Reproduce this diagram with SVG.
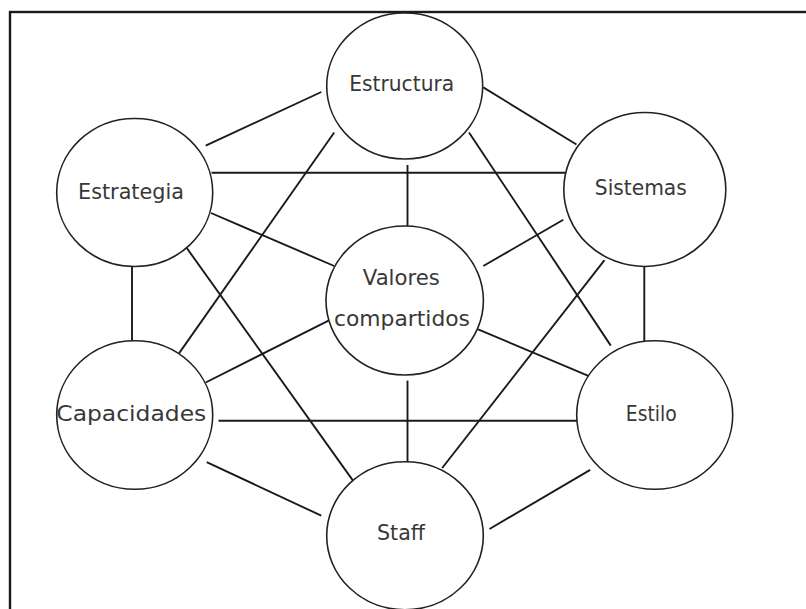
<svg xmlns="http://www.w3.org/2000/svg" width="806" height="609" viewBox="0 0 806 609">
  <style>
    .frame { fill: none; stroke: #1a1a1a; stroke-width: 2.4; }
    .node ellipse { fill: #ffffff; stroke: #222222; stroke-width: 1.6; }
    .node text { font-family: "DejaVu Sans", "Liberation Sans", sans-serif; font-size: 20.5px; fill: #383838; text-anchor: middle; }
    #connectors line { stroke: #1a1a1a; stroke-width: 1.9; }
  </style>

  <rect width="806" height="609" fill="#ffffff"/>
  <!-- outer frame, open past the right and bottom edges -->
  <rect class="frame" x="10" y="12" width="810" height="610"/>

  <g id="connectors">
    <line x1="205.7" y1="145.6" x2="321.3" y2="92"/>
    <line x1="483.3" y1="87.4" x2="576.5" y2="144.5"/>
    <line x1="211.5" y1="172.8" x2="565" y2="172.8"/>
    <line x1="407.5" y1="165" x2="407.5" y2="226"/>
    <line x1="211" y1="213" x2="334.2" y2="266"/>
    <line x1="334.2" y1="132.5" x2="179" y2="353.4"/>
    <line x1="469" y1="132.5" x2="610.8" y2="345.6"/>
    <line x1="563.3" y1="219.8" x2="483.3" y2="266"/>
    <line x1="604.5" y1="260.2" x2="442.2" y2="468"/>
    <line x1="644.3" y1="266.5" x2="644.3" y2="341.5"/>
    <line x1="132" y1="266.5" x2="132" y2="341"/>
    <line x1="186.4" y1="247.5" x2="353.7" y2="481.6"/>
    <line x1="329" y1="320.4" x2="205.7" y2="382.5"/>
    <line x1="478.1" y1="329.3" x2="590.2" y2="376.7"/>
    <line x1="407.5" y1="380.6" x2="407.5" y2="462"/>
    <line x1="218.5" y1="420.8" x2="577" y2="420.8"/>
    <line x1="206.7" y1="462.1" x2="321.3" y2="515.7"/>
    <line x1="590.2" y1="469.9" x2="489.5" y2="529"/>
  </g>

  <g id="estructura" class="node">
    <ellipse cx="404.7" cy="86" rx="78" ry="73"/>
    <text x="401.7" y="90.7" textLength="105" lengthAdjust="spacingAndGlyphs">Estructura</text>
  </g>
  <g id="estrategia" class="node">
    <ellipse cx="134.7" cy="192.5" rx="78" ry="74"/>
    <text x="131" y="199" textLength="106" lengthAdjust="spacingAndGlyphs">Estrategia</text>
  </g>
  <g id="sistemas" class="node">
    <ellipse cx="644.8" cy="189.5" rx="81" ry="77"/>
    <text x="640.8" y="195" textLength="92" lengthAdjust="spacingAndGlyphs">Sistemas</text>
  </g>
  <g id="valores-compartidos" class="node">
    <ellipse cx="404.7" cy="300.5" rx="78.7" ry="74.5"/>
    <text x="401.3" y="285" textLength="77" lengthAdjust="spacingAndGlyphs">Valores</text>
    <text x="402" y="326" textLength="136" lengthAdjust="spacingAndGlyphs">compartidos</text>
  </g>
  <g id="capacidades" class="node">
    <ellipse cx="134.7" cy="415" rx="78" ry="74.3"/>
    <text x="131.3" y="420.7" textLength="150" lengthAdjust="spacingAndGlyphs">Capacidades</text>
  </g>
  <g id="estilo" class="node">
    <ellipse cx="654.7" cy="415" rx="78" ry="74.3"/>
    <text x="651.3" y="420.7" textLength="51" lengthAdjust="spacingAndGlyphs">Estilo</text>
  </g>
  <g id="staff" class="node">
    <ellipse cx="405" cy="535.7" rx="78.3" ry="74"/>
    <text x="401" y="540" textLength="48" lengthAdjust="spacingAndGlyphs">Staff</text>
  </g>
</svg>
